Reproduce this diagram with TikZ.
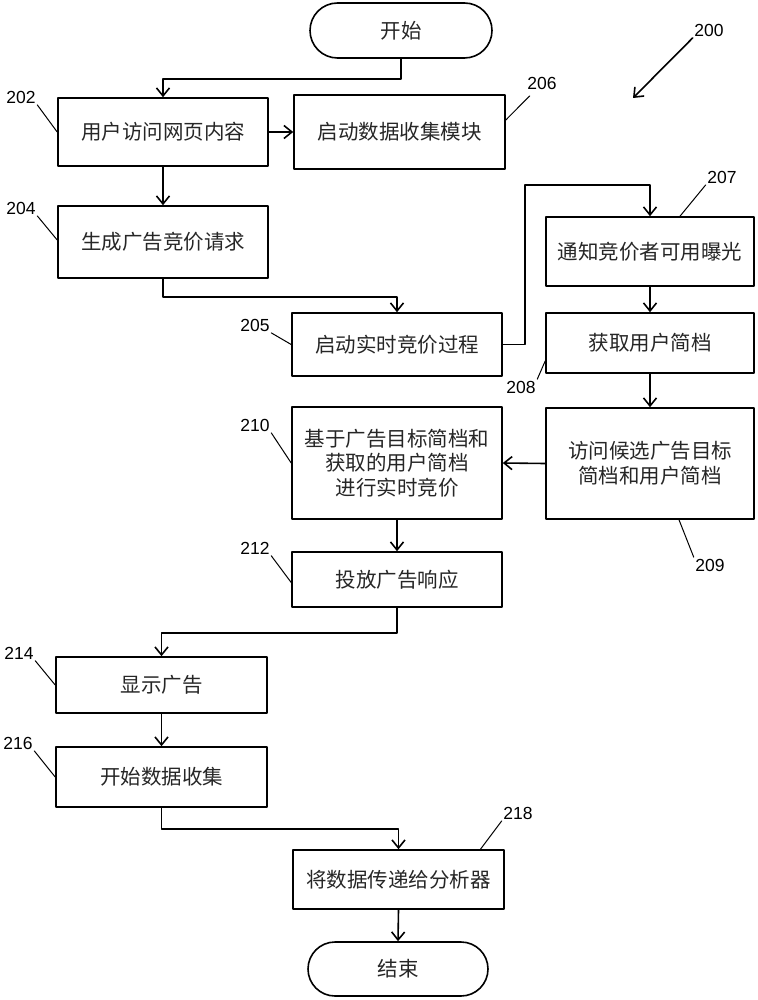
\documentclass[tikz,border=0pt]{standalone}
\usepackage{fontspec}
\newfontfamily\cjk{Noto Sans CJK SC}
\newfontfamily\numfont{Liberation Sans}
\usetikzlibrary{arrows.meta,shapes.misc}
\begin{document}
\begin{tikzpicture}[x=1pt,y=-1pt,line join=round,line cap=round,>={Straight Barb[length=8pt,width=13pt]}]
			\tikzset{box/.style={draw,line width=1.6pt,rectangle,inner sep=0pt,align=center,font=\cjk\fontsize{20.5}{24.5}\selectfont,text=black!85}}
			\tikzset{term/.style={box,rounded rectangle}}
			\tikzset{num/.style={font=\numfont\fontsize{17.5}{20}\selectfont,inner sep=1.5pt}}
			\tikzset{arr/.style={->,line width=1.6pt}}
			\tikzset{lead/.style={line width=1pt}}
			\useasboundingbox (0,0) rectangle (757,1000);
			% start / end
			\node[term,minimum width=182pt,minimum height=55pt] (start) at (401,30.5) {开始};
			\node[term,minimum width=180pt,minimum height=54pt] (stop) at (398,969) {结束};
			% left column
			\node[box,minimum width=210pt,minimum height=68pt] (b202) at (163,132) {用户访问网页内容};
			\node[box,minimum width=211pt,minimum height=74pt] (b206) at (399.5,132) {启动数据收集模块};
			\node[box,minimum width=210pt,minimum height=72pt] (b204) at (163,242) {生成广告竞价请求};
			\node[box,minimum width=210pt,minimum height=63pt] (b205) at (397,344.5) {启动实时竞价过程};
			% right column
			\node[box,minimum width=208pt,minimum height=69pt] (b207) at (650,251.5) {通知竞价者可用曝光};
			\node[box,minimum width=208pt,minimum height=60pt] (b208) at (650,343) {获取用户简档};
			\node[box,minimum width=208pt,minimum height=111pt] (b209) at (650,463.5) {访问候选广告目标\\简档和用户简档};
			\node[box,minimum width=210pt,minimum height=112pt] (b210) at (397,463) {基于广告目标简档和\\获取的用户简档\\进行实时竞价};
			\node[box,minimum width=210pt,minimum height=55pt] (b212) at (397,579.5) {投放广告响应};
			\node[box,minimum width=211pt,minimum height=56pt] (b214) at (161.5,685) {显示广告};
			\node[box,minimum width=211pt,minimum height=60pt] (b216) at (161.5,777) {开始数据收集};
			\node[box,minimum width=211pt,minimum height=59pt] (b218) at (398.5,879.5) {将数据传递给分析器};
			% flow
			\draw[arr] (start.south) -- ++(0,20) -| (b202.north);
			\draw[arr] (b202.east) -- (b206.west);
			\draw[arr] (b202.south) -- (b204.north);
			\draw[arr] (b204.south) -- ++(0,18) -| (b205.north);
			\draw[arr] (b205.east) -- ++(22,0) |- ([yshift=31pt]b207.north) -- (b207.north);
			\draw[arr] (b207.south) -- (b208.north);
			\draw[arr] (b208.south) -- (b209.north);
			\draw[arr] (b209.west) -- (b210.east);
			\draw[arr] (b210.south) -- (b212.north);
			\draw[arr] (b212.south) -- ++(0,25) -| (b214.north);
			\draw[arr] (b214.south) -- (b216.north);
			\draw[arr] (b216.south) -- ++(0,21) -| (b218.north);
			\draw[arr] (b218.south) -- (stop.north);
			% reference numbers
			\node[num] (l200) at (709,30) {200};
			\coordinate (p200) at (633,98);
			\draw[arr] (l200.south west) -- (p200);
			\node[num] (l202) at (21,97) {202};
			\draw[lead] (l202.south east) -- (b202.west);
			\node[num] (l204) at (21,208) {204};
			\draw[lead] (l204.south east) -- ([yshift=2pt]b204.west);
			\node[num] (l205) at (255,325) {205};
			\draw[lead] (l205.south east) -- (b205.west);
			\node[num] (l206) at (542,83) {206};
			\draw[lead] ([shift={(4pt,-5pt)}]l206.south west) -- ([yshift=12pt]b206.east);
			\node[num] (l207) at (722,177) {207};
			\draw[lead] (l207.south west) -- ([xshift=30pt]b207.north);
			\node[num] (l208) at (521,387) {208};
			\draw[lead] (l208.north east) -- ([yshift=-18pt]b208.west);
			\node[num] (l209) at (710,565) {209};
			\draw[lead] (l209.north west) -- ([xshift=29pt]b209.south);
			\node[num] (l210) at (255,425) {210};
			\draw[lead] (l210.south east) -- (b210.west);
			\node[num] (l212) at (255,548) {212};
			\draw[lead] (l212.south east) -- ([yshift=-3pt]b212.west);
			\node[num] (l214) at (19,653) {214};
			\draw[lead] (l214.south east) -- (b214.west);
			\node[num] (l216) at (18,743) {216};
			\draw[lead] (l216.south east) -- (b216.west);
			\node[num] (l218) at (518,813) {218};
			\draw[lead] (l218.south west) -- ([xshift=82pt]b218.north);
		\end{tikzpicture}
\end{document}
